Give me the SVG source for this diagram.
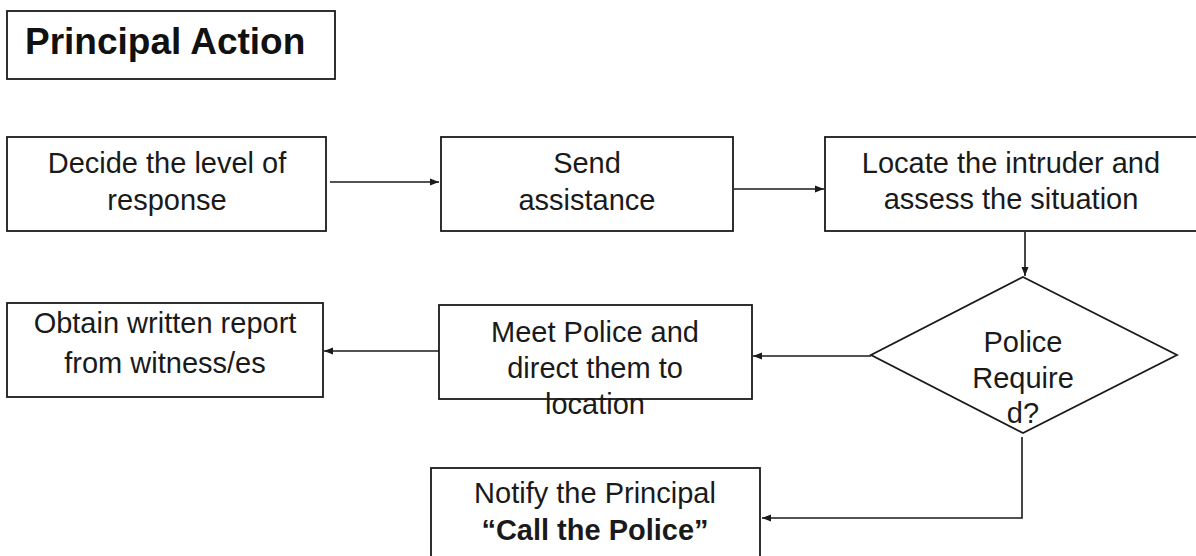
<svg xmlns="http://www.w3.org/2000/svg" width="1196" height="556" viewBox="0 0 1196 556">
<defs>
<style>
.box{fill:#fff;stroke:#1a1a1a;stroke-width:1.8}
.t{font-family:"Liberation Sans",Arial,sans-serif;font-size:29px;fill:#1a1a1a;text-anchor:middle}
.b{font-weight:bold}
.title{font-family:"Liberation Sans",Arial,sans-serif;font-size:37px;font-weight:bold;fill:#111}
.c{fill:none;stroke:#1a1a1a;stroke-width:1.6;marker-end:url(#ah)}
</style>
<marker id="ah" markerUnits="userSpaceOnUse" markerWidth="10" markerHeight="8" refX="9" refY="4" orient="auto">
<path d="M0,0.5 L9,4 L0,7.5 z" fill="#1a1a1a"/>
</marker>
</defs>
<rect width="1196" height="556" fill="#fff"/>
<g id="title">
<rect class="box" x="7" y="11" width="328" height="68"/>
<text class="title" x="25" y="54">Principal Action</text>
</g>
<g id="decide">
<rect class="box" x="7" y="137" width="319" height="94"/>
<text class="t" x="167" y="173">Decide the level of</text>
<text class="t" x="167" y="210">response</text>
</g>
<g id="send">
<rect class="box" x="441" y="137" width="292" height="94"/>
<text class="t" x="587" y="173">Send</text>
<text class="t" x="587" y="210">assistance</text>
</g>
<g id="locate">
<rect class="box" x="825" y="137" width="373" height="94"/>
<text class="t" x="1011" y="173">Locate the intruder and</text>
<text class="t" x="1011" y="209">assess the situation</text>
</g>
<g id="decision">
<polygon class="box" points="1023,277 1177,355 1023,433 871,355"/>
<text class="t" x="1023" y="352">Police</text>
<text class="t" x="1023" y="388">Require</text>
<text class="t" x="1023" y="423">d?</text>
</g>
<g id="meet">
<rect class="box" x="439" y="305" width="313" height="94"/>
<text class="t" x="595" y="342">Meet Police and</text>
<text class="t" x="595" y="378">direct them to</text>
<text class="t" x="595" y="414">location</text>
</g>
<g id="obtain">
<rect class="box" x="7" y="303" width="316" height="94"/>
<text class="t" x="165" y="333">Obtain written report</text>
<text class="t" x="165" y="373">from witness/es</text>
</g>
<g id="notify">
<rect class="box" x="431" y="468" width="329" height="100"/>
<text class="t" x="595" y="503">Notify the Principal</text>
<text class="t b" x="595" y="540">“Call the Police”</text>
</g>
<g id="connectors">
<path class="c" d="M330,182 H439"/>
<path class="c" d="M734,189 H824"/>
<path class="c" d="M1025,232 V276"/>
<path class="c" d="M871,356 H753"/>
<path class="c" d="M439,351 H324"/>
<path class="c" d="M1022,437 V518 H762"/>
</g>
</svg>
